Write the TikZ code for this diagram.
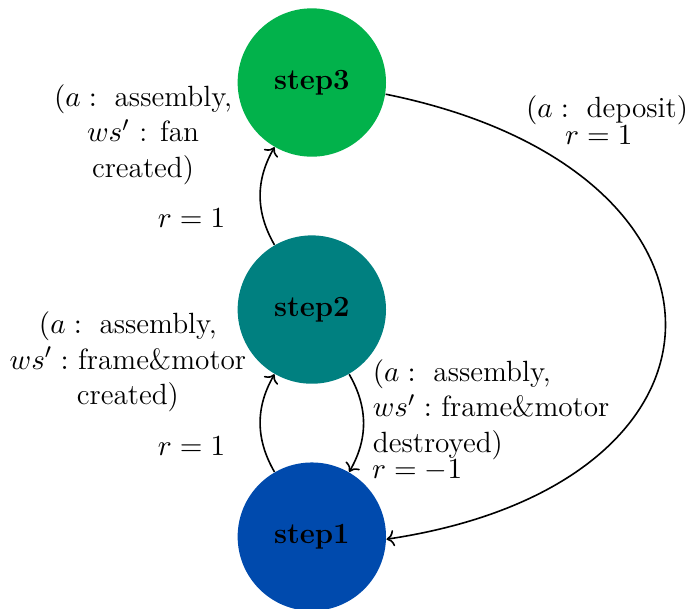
\documentclass[tikz,border=0pt]{standalone}
\usetikzlibrary{arrows.meta}
\definecolor{cthree}{RGB}{2,178,75}
\definecolor{ctwo}{RGB}{0,128,128}
\definecolor{cone}{RGB}{0,74,173}
\begin{document}
\begin{tikzpicture}[
  font=\fontsize{11}{13.4}\selectfont,
  state/.style={circle,minimum size=1.96cm,inner sep=0pt,font=\fontsize{11}{13.4}\selectfont\bfseries},
  conn/.style={->,semithick},
  lbl/.style={align=center,inner sep=0pt},
  lbll/.style={align=left,inner sep=0pt,anchor=west}
]
\useasboundingbox (-4.12,-0.95) rectangle (4.97,7.09);
\node[state,fill=cone] (s1) at (0,0) {step1};
\node[state,fill=ctwo] (s2) at (0,3) {step2};
\node[state,fill=cthree] (s3) at (0,6) {step3};

\draw[conn] (s1) to[bend left=30] (s2);
\draw[conn] (s2) to[bend left=30] (s1);
\draw[conn] (s2) to[bend left=30] (s3);
\draw[conn] (s3.-9) .. controls (5.9,4.85) and (5.9,0.7) .. (s1.-2);

\node[lbl] (la) at (-2.23,5.31) {$(a:{}$ assembly,\\ $ws'$ : fan\\ created)};
\node[lbl] (ra) at (-1.59,4.21) {$r=1$};
\node[lbl] (lb) at (-2.43,2.31) {$(a:{}$ assembly,\\ $ws':$ frame\&motor\\ created)};
\node[lbl] (rb) at (-1.59,1.20) {$r=1$};
\node[lbll] (lc) at (0.80,1.68) {$(a:{}$ assembly,\\ $ws':$ frame\&motor\\ destroyed)};
\node[lbll] (rc) at (0.79,0.87) {$r=-1$};
\node[lbl] (ld) at (3.90,5.64) {$(a:{}$ deposit)};
\node[lbl] (rd) at (3.79,5.30) {$r=1$};
\end{tikzpicture}
\end{document}
